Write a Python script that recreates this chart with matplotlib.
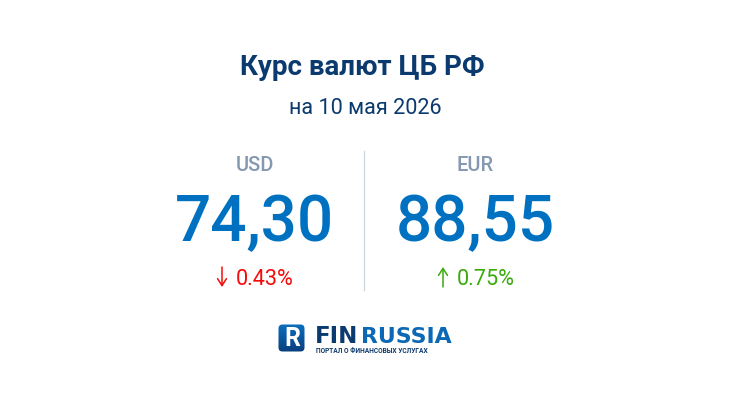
import matplotlib
matplotlib.use("Agg")
from matplotlib import pyplot as plt
from matplotlib.patches import FancyBboxPatch
import numpy as np

title = "Курс валют ЦБ РФ"
subtitle = "на 10 мая 2026"
currencies = ["USD", "EUR"]
rates = ["74,30", "88,55"]
changes = ["0.43%", "0.75%"]
directions = ["down", "up"]

NAVY = "#0b3a6e"
BLUE = "#0071c1"
GREY = "#8499b1"
colors = {"down": "#f40a0a", "up": "#3aab0c"}

plt.rcParams["font.family"] = ["Roboto", "DejaVu Sans"]

fig = plt.figure(figsize=(7.3, 4.1), dpi=100)
ax = fig.add_axes([0, 0, 1, 1])
# pixel coordinates, same as the reference image
ax.set_xlim(0, 730)
ax.set_ylim(410, 0)
ax.axis("off")

ax.text(362, 67.5, title, ha="center", va="center", fontsize=20, fontweight="bold", color=NAVY)
ax.text(365, 109, subtitle, ha="center", va="center", fontsize=15.6, color=NAVY)

ax.plot([364, 364], [152, 291], color="#c9d5e0", lw=0.9)

centers = [254, 475]
for i, cx in enumerate(centers):
    ax.text(cx + 0.5, 166, currencies[i], ha="center", va="center", fontsize=14.4, fontweight="medium", color=GREY)
    ax.text(cx + 0.5, 216.5, rates[i], ha="center", va="center_baseline", fontsize=46, fontweight="medium", color=BLUE)
    col = colors[directions[i]]
    ax.text(cx + 11, 279.5, changes[i], ha="center", va="center", fontsize=15.6, color=col)
    ax_x = cx - 32
    if directions[i] == "down":
        start, end = 268, 288
    else:
        start, end = 288, 268
    ax.annotate("", xy=(ax_x, end), xytext=(ax_x, start),
                arrowprops=dict(arrowstyle="->,head_width=0.32,head_length=0.5", color=col, lw=1.1,
                                shrinkA=0, shrinkB=0))

# logo
grad = np.linspace(0, 1, 64).reshape(-1, 1)
cmap = matplotlib.colors.LinearSegmentedColormap.from_list("logo", ["#0a6fc0", "#0a3f7c"])
box = FancyBboxPatch((278.5, 325.5), 26, 27, boxstyle="round,pad=0,rounding_size=4", fc="none", ec="none")
ax.add_patch(box)
im = ax.imshow(grad, extent=(278, 305, 353, 325), cmap=cmap, aspect="auto", zorder=2)
im.set_clip_path(box)
ax.set_xlim(0, 730)
ax.set_ylim(410, 0)
ax.text(292.5, 339.5, "R", ha="center", va="center", fontsize=18, fontweight="bold", color="white", zorder=3)

ax.text(315, 337, "FIN", ha="left", va="center", fontsize=16.5, fontweight="bold", family="DejaVu Sans", color=NAVY)
ax.text(361, 337, "RUSSIA", ha="left", va="center", fontsize=15.8, fontweight="bold", family="DejaVu Sans", color="#0b68b4")
ax.text(316, 351.5, "ПОРТАЛ О ФИНАНСОВЫХ УСЛУГАХ", ha="left", va="center", fontsize=4.8, fontweight="bold", color=NAVY)

fig.savefig("out.png", dpi=100, facecolor="white")
